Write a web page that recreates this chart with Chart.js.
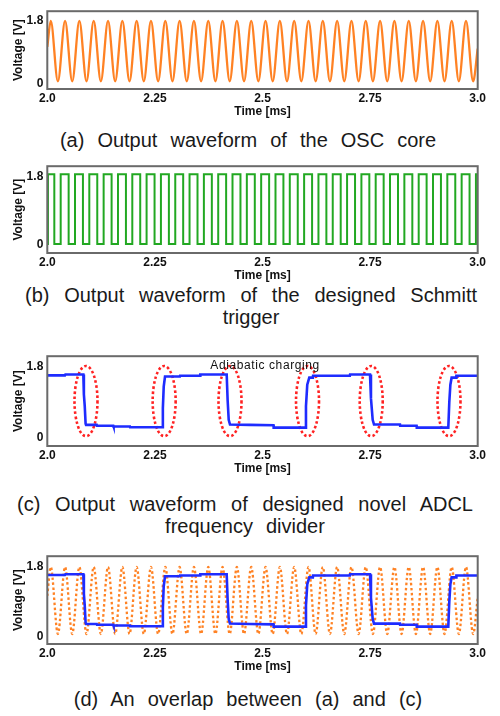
<!DOCTYPE html>
<html><head><meta charset="utf-8">
<script src="https://cdn.jsdelivr.net/npm/chart.js@4.4.1/dist/chart.umd.min.js"></script>
<style>
html,body{margin:0;padding:0;background:#fff;width:500px;height:716px;overflow:hidden;position:relative;}
.panel{position:absolute;left:0;width:500px;}
.cap{position:absolute;font-family:"Liberation Sans",Arial,sans-serif;font-size:20px;line-height:22px;color:#1a1a1a;word-spacing:7.5px;}
</style></head><body>
<div class="panel" style="top:0;height:119px"><canvas id="ca"></canvas></div>
<div class="panel" style="top:155px;height:128px"><canvas id="cb"></canvas></div>
<div class="panel" style="top:345px;height:131px"><canvas id="cc"></canvas></div>
<div class="panel" style="top:545px;height:129px"><canvas id="cd"></canvas></div>
<div class="cap" style="left:0;width:496px;top:129px;text-align:center;white-space:nowrap">(a) Output waveform of the OSC core</div>
<div class="cap" style="left:25px;width:452px;top:284px;text-align:justify;text-align-last:center">(b) Output waveform of the designed Schmitt trigger</div>
<div class="cap" style="left:17px;width:456px;top:493px;text-align:justify;text-align-last:center">(c) Output waveform of designed novel ADCL frequency divider</div>
<div class="cap" style="left:0;width:496px;top:688px;text-align:center;white-space:nowrap">(d) An overlap between (a) and (c)</div>
<script>
// ---- axis ticks ----
const xTicks = [2.0, 2.25, 2.5, 2.75, 3.0];
const xTickLabels = ['2.0', '2.25', '2.5', '2.75', '3.0'];
const yTicks = [0, 1.8];
const yTickLabels = ['0', '1.8'];

// ---- (a) OSC core output: times of the extremes [ms] and voltages [V] ----
const oscTime = [2.000, 2.0080, 2.0246, 2.0413, 2.0579, 2.0745, 2.0911, 2.1078, 2.1244, 2.1411, 2.1577,
  2.1744, 2.1910, 2.2076, 2.2242, 2.2409, 2.2575, 2.2742, 2.2908, 2.3074, 2.3240, 2.3407, 2.3573,
  2.3740, 2.3906, 2.4072, 2.4238, 2.4405, 2.4571, 2.4738, 2.4904, 2.5071, 2.5237, 2.5403, 2.5569,
  2.5736, 2.5902, 2.6069, 2.6235, 2.6401, 2.6567, 2.6734, 2.6900, 2.7067, 2.7233, 2.7399, 2.7565,
  2.7732, 2.7898, 2.8065, 2.8231, 2.8398, 2.8564, 2.8730, 2.8896, 2.9063, 2.9229, 2.9396, 2.9562,
  2.9728, 2.9894, 3.000];
const oscVolt = [1.05, 1.80, 0.06, 1.80, 0.06, 1.80, 0.06, 1.80, 0.06, 1.80, 0.06,
  1.80, 0.06, 1.80, 0.06, 1.80, 0.06, 1.80, 0.06, 1.80, 0.06, 1.80, 0.06,
  1.80, 0.06, 1.80, 0.06, 1.80, 0.06, 1.80, 0.06, 1.80, 0.06, 1.80, 0.06,
  1.80, 0.06, 1.80, 0.06, 1.80, 0.06, 1.80, 0.06, 1.80, 0.06, 1.80, 0.06,
  1.80, 0.06, 1.80, 0.06, 1.80, 0.06, 1.80, 0.06, 1.80, 0.06, 1.80, 0.06,
  1.80, 0.06, 1.00];

// ---- (b) Schmitt trigger output: switching times [ms] and levels [V] ----
const schmittTime = [2.000, 2.0015, 2.0163, 2.0311, 2.0496, 2.0644, 2.0828, 2.0976, 2.1161, 2.1309,
  2.1494, 2.1642, 2.1827, 2.1975, 2.2159, 2.2307, 2.2492, 2.2640, 2.2825, 2.2973, 2.3157, 2.3305,
  2.3490, 2.3638, 2.3823, 2.3971, 2.4155, 2.4303, 2.4488, 2.4636, 2.4821, 2.4969, 2.5154, 2.5302,
  2.5486, 2.5634, 2.5819, 2.5967, 2.6152, 2.6300, 2.6484, 2.6632, 2.6817, 2.6965, 2.7150, 2.7298,
  2.7482, 2.7630, 2.7815, 2.7963, 2.8148, 2.8296, 2.8481, 2.8629, 2.8813, 2.8961, 2.9146, 2.9294,
  2.9479, 2.9627, 2.9811, 2.9959, 3.000];
const schmittVolt = [0.02, 1.87, 0.02, 1.87, 0.02, 1.87, 0.02, 1.87, 0.02, 1.87,
  0.02, 1.87, 0.02, 1.87, 0.02, 1.87, 0.02, 1.87, 0.02, 1.87, 0.02, 1.87,
  0.02, 1.87, 0.02, 1.87, 0.02, 1.87, 0.02, 1.87, 0.02, 1.87, 0.02, 1.87,
  0.02, 1.87, 0.02, 1.87, 0.02, 1.87, 0.02, 1.87, 0.02, 1.87, 0.02, 1.87,
  0.02, 1.87, 0.02, 1.87, 0.02, 1.87, 0.02, 1.87, 0.02, 1.87, 0.02, 1.87,
  0.02, 1.87, 0.02, 1.87, 1.87];

// ---- (c) ADCL frequency divider output ----
const adclTime = [2.000, 2.041, 2.042, 2.0837, 2.0850, 2.0870, 2.0890, 2.0900, 2.1148, 2.1155, 2.1534,
  2.1540, 2.1920, 2.1925, 2.2670, 2.2685, 2.2705, 2.2735, 2.3080, 2.3085, 2.3550, 2.3555, 2.4168,
  2.4190, 2.4215, 2.4245, 2.4700, 2.5255, 2.5260, 2.5988, 2.6010, 2.6040, 2.6087, 2.6170, 2.6175,
  2.7030, 2.7035, 2.7498, 2.7520, 2.7560, 2.7591, 2.8195, 2.8200, 2.8580, 2.8585, 2.9317, 2.9340,
  2.9365, 2.9394, 2.9500, 2.9505, 3.000];
const adclVolt = [1.59, 1.59, 1.61, 1.61, 1.10, 0.80, 0.35, 0.32, 0.32, 0.30, 0.30,
  0.28, 0.28, 0.26, 0.26, 0.75, 1.30, 1.56, 1.56, 1.58, 1.58, 1.61, 1.61,
  0.95, 0.45, 0.33, 0.32, 0.31, 0.25, 0.25, 0.80, 1.35, 1.53, 1.53, 1.58,
  1.58, 1.61, 1.61, 1.00, 0.45, 0.33, 0.33, 0.30, 0.30, 0.25, 0.25, 0.90,
  1.35, 1.53, 1.53, 1.58, 1.58];

// ---- (c) "Adiabatic charging" ellipses (centre times [ms]) and label ----
const ellipseTime = [2.0899, 2.2715, 2.4245, 2.6046, 2.7526, 2.9333];
const ellipseCenterVolt = 0.93;
const ellipseHalfWidth = 0.0267;   // ms
const ellipseHalfHeight = 0.90;    // V
const noteText = 'Adiabatic charging';
const notePos = [2.506, 1.74];

const FONT = '"Liberation Sans", Arial, sans-serif';
const toXY = (ts, vs) => ts.map((t, i) => ({x: t, y: vs[i]}));

const framePlugin = {
  id: 'frame',
  beforeDraw(chart) {
    const {ctx, chartArea: a} = chart;
    ctx.save(); ctx.fillStyle = '#ffffff';
    ctx.fillRect(a.left, a.top, a.right - a.left, a.bottom - a.top); ctx.restore();
  },
  afterDatasetsDraw(chart) {
    const {ctx, chartArea: a} = chart;
    ctx.save(); ctx.strokeStyle = '#6a6a6a'; ctx.lineWidth = 2;
    ctx.strokeRect(a.left, a.top, a.right - a.left, a.bottom - a.top); ctx.restore();
  }
};

const ellipsePlugin = {
  id: 'ellipses',
  beforeDatasetsDraw(chart) {
    const {ctx, scales: {x, y}} = chart;
    ctx.save();
    ctx.strokeStyle = '#ff2222'; ctx.lineWidth = 2.6; ctx.setLineDash([2.6, 2.4]);
    ellipseTime.forEach(t => {
      const cx = x.getPixelForValue(t), cy = y.getPixelForValue(ellipseCenterVolt);
      const rx = Math.abs(x.getPixelForValue(t + ellipseHalfWidth) - cx);
      const ry = Math.abs(y.getPixelForValue(ellipseCenterVolt + ellipseHalfHeight) - cy);
      ctx.beginPath(); ctx.ellipse(cx, cy, rx, ry, 0, 0, Math.PI * 2); ctx.stroke();
    });
    ctx.restore();
  },
  afterDatasetsDraw(chart) {
    const {ctx, scales: {x, y}} = chart;
    ctx.save();
    ctx.font = '12px ' + FONT; ctx.fillStyle = '#111';
    ctx.textAlign = 'center'; ctx.textBaseline = 'alphabetic';
    try { ctx.letterSpacing = '0.6px'; } catch (e) {}
    ctx.fillText(noteText, x.getPixelForValue(notePos[0]), y.getPixelForValue(notePos[1]));
    ctx.restore();
  }
};

function makeOptions(padTop, yMin) {
  return {
    responsive: true, maintainAspectRatio: false, animation: false,
    layout: {padding: {top: padTop, right: 22.3, bottom: 0, left: 0}},
    plugins: {legend: {display: false}, tooltip: {enabled: false}},
    elements: {point: {radius: 0}, line: {tension: 0}},
    scales: {
      x: {
        type: 'linear', min: 2, max: 3,
        grid: {display: false, drawTicks: false}, border: {display: false},
        afterBuildTicks: s => { s.ticks = xTicks.map(v => ({value: v})); },
        ticks: {callback: v => xTickLabels[xTicks.indexOf(v)], font: {family: FONT, size: 12, weight: 'bold'},
                color: '#111', padding: 2, maxRotation: 0, autoSkip: false},
        title: {display: true, text: 'Time [ms]', font: {family: FONT, size: 12, weight: 'bold'},
                color: '#111', padding: {top: 0, bottom: 0}},
        afterFit: s => { s.height = 30; }
      },
      y: {
        type: 'linear', min: yMin, max: 2.08,
        grid: {display: false, drawTicks: false}, border: {display: false},
        afterBuildTicks: s => { s.ticks = yTicks.map(v => ({value: v})); },
        ticks: {callback: v => yTickLabels[yTicks.indexOf(v)], font: {family: FONT, size: 12, weight: 'bold'},
                color: '#111', padding: 4, autoSkip: false},
        title: {display: true, text: 'Voltage [V]', font: {family: FONT, size: 12, weight: 'bold'},
                color: '#111', padding: {top: 11, bottom: 0}},
        afterFit: s => { s.width = 47.3; }
      }
    }
  };
}

const ORANGE = '#ff8224', GREEN = '#22a822', BLUE = '#1e2cff';

new Chart(document.getElementById('ca'), {
  type: 'line',
  data: {datasets: [{data: toXY(oscTime, oscVolt), borderColor: ORANGE, borderWidth: 2.3,
    cubicInterpolationMode: 'monotone'}]},
  options: makeOptions(3.3, -0.16),
  plugins: [framePlugin]
});

new Chart(document.getElementById('cb'), {
  type: 'line',
  data: {datasets: [{data: toXY(schmittTime, schmittVolt), borderColor: GREEN, borderWidth: 2,
    stepped: 'before'}]},
  options: makeOptions(6.7, -0.22),
  plugins: [framePlugin]
});

new Chart(document.getElementById('cc'), {
  type: 'line',
  data: {datasets: [{data: toXY(adclTime, adclVolt), borderColor: BLUE, borderWidth: 2.6}]},
  options: makeOptions(10, -0.22),
  plugins: [framePlugin, ellipsePlugin]
});

new Chart(document.getElementById('cd'), {
  type: 'line',
  data: {datasets: [
    {data: toXY(adclTime, adclVolt), borderColor: BLUE, borderWidth: 2.6, order: 0},
    {data: toXY(oscTime, oscVolt), borderColor: ORANGE, borderWidth: 2.3, borderDash: [2.5, 2.5],
     cubicInterpolationMode: 'monotone', order: 1}
  ]},
  options: makeOptions(8, -0.2),
  plugins: [framePlugin]
});
</script>
</body></html>
